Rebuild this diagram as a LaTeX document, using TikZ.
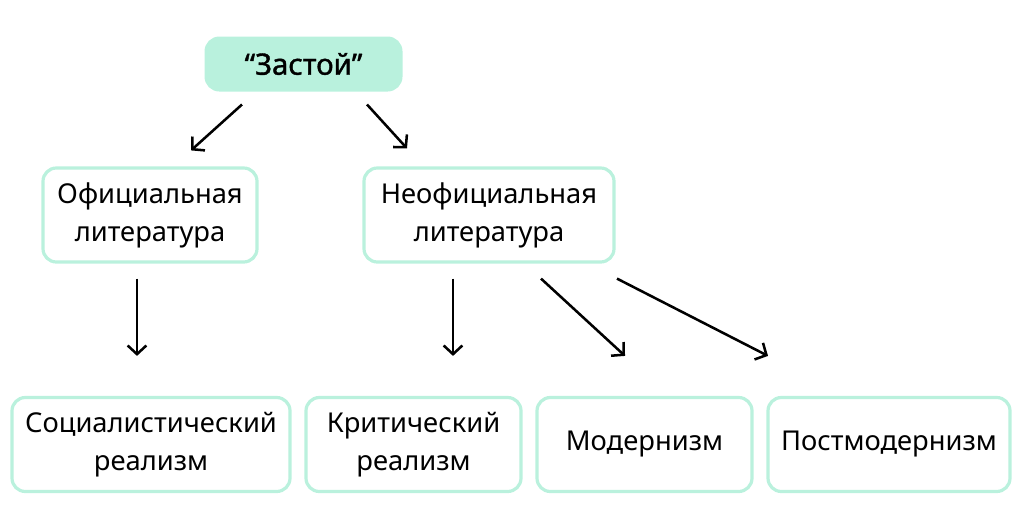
\documentclass[tikz,border=0pt]{standalone}
\usepackage{fontspec}
\setmainfont{Noto Sans}
\newfontfamily\semibold[FakeBold=1.3]{Noto Sans}
\usepackage{tikz}
\usetikzlibrary{arrows.meta,calc}

\definecolor{mint}{HTML}{B9F1DD}
\definecolor{mintline}{HTML}{BAF1DD}

\tikzset{
  box/.style={draw=mintline, line width=2.4pt, rounded corners=10pt, fill=white, align=center, font=\fontsize{20.5}{28.5}\selectfont, minimum height=70.5pt},
  topbox/.style={fill=mint, draw=mint, line width=2.25pt, rounded corners=10pt, font=\fontsize{22}{24}\semibold, minimum width=146.25pt, minimum height=39pt},
  arr/.style={line width=1.9pt, -{Straight Barb[length=6.5pt,width=14pt,line width=1.9pt]}}
}

\begin{document}
\begin{tikzpicture}[x=0.75pt, y=-0.75pt]
\useasboundingbox (0,0) rectangle (1024,511);

\node[topbox] (zastoy) at (303.5, 64) {“Застой”};

\node[box, minimum width=160.5pt] (official) at (150, 215) {Официальная\\литература};
\node[box, minimum width=187.5pt] (unofficial) at (489, 215) {Неофициальная\\литература};

\node[box, minimum width=208.5pt] (socreal) at (151, 444.5) {Социалистический\\реализм};
\node[box, minimum width=161.25pt] (critreal) at (413.5, 444.5) {Критический\\реализм};
\node[box, minimum width=161.25pt] (modern) at (644.5, 444.5) {Модернизм};
\node[box, minimum width=181.5pt] (postmod) at (889, 444.5) {Постмодернизм};

\draw[arr] ($(zastoy.south)+(-61.5,13)$) -- ($(official.north)+(41,-16)$);
\draw[arr] ($(zastoy.south)+(63.5,13)$) -- ($(unofficial.north)+(-82,-18)$);

\draw[arr] ($(official.south)+(-13,15)$) -- ($(socreal.north)+(-14,-40)$);
\draw[arr] ($(unofficial.south)+(-36,15)$) -- ($(critreal.north)+(39.5,-40)$);
\draw[arr] ($(unofficial.south)+(52,15)$) -- ($(modern.north)+(-19.5,-40)$);
\draw[arr] ($(unofficial.south)+(128,15)$) -- ($(postmod.north)+(-121,-40)$);
\end{tikzpicture}
\end{document}
